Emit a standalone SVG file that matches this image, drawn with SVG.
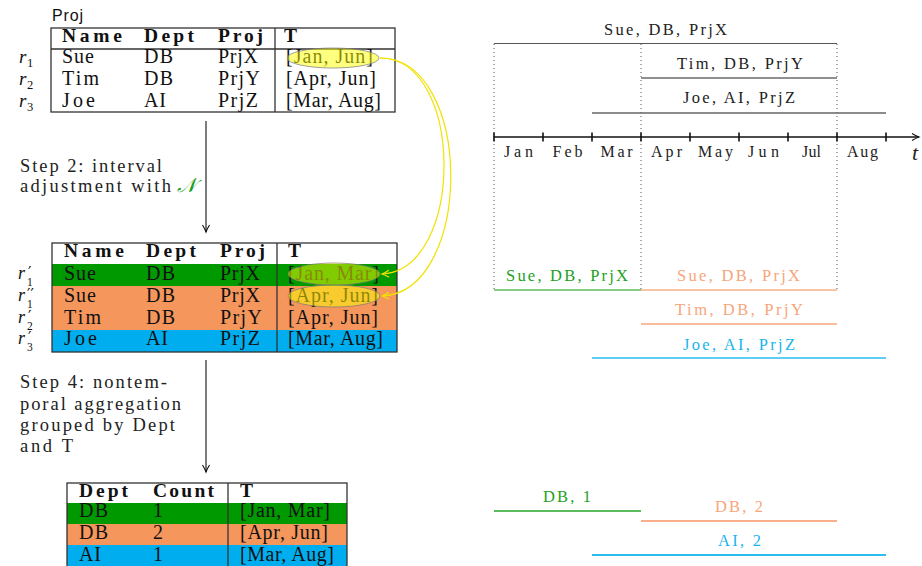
<svg xmlns="http://www.w3.org/2000/svg" width="922" height="566" viewBox="0 0 922 566">
<defs>
<style>
.t{font-family:"Liberation Serif","Times New Roman",serif;font-size:20px;fill:#111}
.b{font-family:"Liberation Serif","Times New Roman",serif;font-size:19.5px;font-weight:bold;fill:#111}
.st{font-family:"Liberation Serif","Times New Roman",serif;font-size:18.5px;fill:#222}
.tl{font-family:"Liberation Serif","Times New Roman",serif;font-size:16.5px;fill:#222}
.mo{font-family:"Liberation Serif","Times New Roman",serif;font-size:16px;fill:#222}
.rl{font-family:"Liberation Serif","Times New Roman",serif;font-size:19px;font-style:italic;fill:#111}
.rl2{font-family:"Liberation Serif","Times New Roman",serif;font-size:18px;font-style:italic;fill:#111}
.sub{font-style:normal;font-size:12.5px}
.sub2{font-style:normal;font-size:11.5px}
.pr{font-style:normal;font-size:15px;font-family:"DejaVu Sans",sans-serif}
.frame{fill:none;stroke:#333;stroke-width:1.3}
.ell{fill:#ffff00;fill-opacity:0.5;stroke:#777;stroke-opacity:0.7;stroke-width:1}
.green{fill:#009900}
.orange{fill:#F5965C}
.blue{fill:#00AEEF}
.dot{stroke:#555;stroke-width:1;stroke-dasharray:1 3}
.gtx{fill:#22a022}
.otx{fill:#F7A57A}
.btx{fill:#1AB4EC}
</style>
<marker id="ah" markerWidth="10" markerHeight="10" refX="8" refY="5" orient="auto" markerUnits="userSpaceOnUse">
<path d="M1,1.5 Q5,4 8,5 Q5,6 1,8.5" fill="none" stroke="#111" stroke-width="1.1"/>
</marker>
<marker id="ahy" markerWidth="10" markerHeight="10" refX="8" refY="5" orient="auto" markerUnits="userSpaceOnUse">
<path d="M1,1.5 Q5,4 8,5 Q5,6 1,8.5" fill="none" stroke="#F2E200" stroke-width="1.2"/>
</marker>
</defs>
<rect width="922" height="566" fill="#fff"/>

<!-- Table 1 -->
<g id="table-proj">
<text x="52" y="21" style="font-family:'Liberation Sans',Arial,sans-serif;font-size:16px;fill:#111" textLength="31">Proj</text>
<rect class="frame" x="51" y="28" width="344" height="84"/>
<line x1="51" y1="49" x2="395" y2="49" stroke="#333" stroke-width="1.3"/>
<line x1="275" y1="28" x2="275" y2="112" stroke="#333" stroke-width="1.3"/>
<text class="b" x="62" y="42" textLength="60">Name</text>
<text class="b" x="144" y="42" textLength="50">Dept</text>
<text class="b" x="218" y="42" textLength="45">Proj</text>
<text class="b" x="284" y="42">T</text>
<text class="t" x="62" y="63" textLength="32">Sue</text>
<text class="t" x="144" y="63" textLength="29">DB</text>
<text class="t" x="218" y="63" textLength="40">PrjX</text>
<text class="t" x="286" y="63" textLength="87">[Jan, Jun]</text>
<text class="t" x="62" y="85" textLength="37">Tim</text>
<text class="t" x="144" y="85" textLength="29">DB</text>
<text class="t" x="218" y="85" textLength="42">PrjY</text>
<text class="t" x="286" y="85" textLength="90">[Apr, Jun]</text>
<text class="t" x="62" y="107" textLength="33">Joe</text>
<text class="t" x="144" y="107" textLength="22">AI</text>
<text class="t" x="218" y="107" textLength="40">PrjZ</text>
<text class="t" x="286" y="107" textLength="95">[Mar, Aug]</text>
<ellipse class="ell" cx="333" cy="58" rx="46" ry="10"/>
<text class="rl" x="19" y="63">r<tspan class="sub" x="27" dy="4">1</tspan></text>
<text class="rl" x="19" y="85">r<tspan class="sub" x="27" dy="4">2</tspan></text>
<text class="rl" x="19" y="107">r<tspan class="sub" x="27" dy="4">3</tspan></text>
</g>

<!-- Step 2 label -->
<g id="step2">
<text class="st" x="20" y="172" textLength="142">Step 2: interval</text>
<text class="st" x="20" y="192" textLength="151">adjustment with</text>
<text x="177" y="192" style="font-family:'Liberation Serif',serif;font-size:20px;font-style:italic;fill:#1aa01a">𝒩</text>
</g>

<!-- Table 2 -->
<g id="table-adjusted">
<rect x="52" y="264" width="345" height="22" class="green"/>
<rect x="52" y="286" width="345" height="44" class="orange"/>
<rect x="52" y="330" width="345" height="22" class="blue"/>
<rect class="frame" x="52" y="243" width="345" height="109"/>
<line x1="277" y1="243" x2="277" y2="352" stroke="#333" stroke-width="1.3"/>
<text class="b" x="64" y="257" textLength="60">Name</text>
<text class="b" x="146" y="257" textLength="50">Dept</text>
<text class="b" x="220" y="257" textLength="45">Proj</text>
<text class="b" x="288" y="257">T</text>
<text class="t" x="64" y="280" textLength="32">Sue</text>
<text class="t" x="146" y="280" textLength="29">DB</text>
<text class="t" x="220" y="280" textLength="40">PrjX</text>
<text class="t" x="288" y="280" textLength="91">[Jan, Mar]</text>
<text class="t" x="64" y="302" textLength="32">Sue</text>
<text class="t" x="146" y="302" textLength="29">DB</text>
<text class="t" x="220" y="302" textLength="40">PrjX</text>
<text class="t" x="288" y="302" textLength="90">[Apr, Jun]</text>
<text class="t" x="64" y="324" textLength="37">Tim</text>
<text class="t" x="146" y="324" textLength="29">DB</text>
<text class="t" x="220" y="324" textLength="42">PrjY</text>
<text class="t" x="288" y="324" textLength="90">[Apr, Jun]</text>
<text class="t" x="64" y="345" textLength="33">Joe</text>
<text class="t" x="146" y="345" textLength="22">AI</text>
<text class="t" x="220" y="345" textLength="40">PrjZ</text>
<text class="t" x="288" y="345" textLength="95">[Mar, Aug]</text>
<ellipse class="ell" cx="334" cy="274" rx="46" ry="11"/>
<ellipse class="ell" cx="334" cy="296" rx="46" ry="11"/>
<text class="rl2" x="18" y="279">r<tspan class="pr" x="28" dy="-1">′</tspan><tspan class="sub2" x="27" dy="8">1</tspan></text>
<text class="rl2" x="18" y="301">r<tspan class="pr" x="27" dy="-1">′′</tspan><tspan class="sub2" x="27" dy="8">1</tspan></text>
<text class="rl2" x="18" y="323">r<tspan class="pr" x="28" dy="-1">′</tspan><tspan class="sub2" x="27" dy="8">2</tspan></text>
<text class="rl2" x="18" y="344">r<tspan class="pr" x="28" dy="-1">′</tspan><tspan class="sub2" x="27" dy="8">3</tspan></text>
</g>

<!-- Step 4 label -->
<g id="step4">
<text class="st" x="20" y="388" textLength="147">Step 4: nontem-</text>
<text class="st" x="20" y="410" textLength="161">poral aggregation</text>
<text class="st" x="20" y="431" textLength="155">grouped by Dept</text>
<text class="st" x="20" y="452" textLength="53">and T</text>
</g>

<!-- Table 3 -->
<g id="table-result">
<rect x="67" y="503" width="280" height="21" class="green"/>
<rect x="67" y="524" width="280" height="21" class="orange"/>
<rect x="67" y="545" width="280" height="23" class="blue"/>
<rect class="frame" x="67" y="483" width="280" height="90"/>
<line x1="228" y1="483" x2="228" y2="573" stroke="#333" stroke-width="1.3"/>
<text class="b" x="79" y="497" textLength="49">Dept</text>
<text class="b" x="153" y="497" textLength="61">Count</text>
<text class="b" x="240" y="497">T</text>
<text class="t" x="79" y="517" textLength="29">DB</text>
<text class="t" x="153" y="517">1</text>
<text class="t" x="240" y="517" textLength="90">[Jan, Mar]</text>
<text class="t" x="79" y="539" textLength="29">DB</text>
<text class="t" x="153" y="539">2</text>
<text class="t" x="240" y="539" textLength="88">[Apr, Jun]</text>
<text class="t" x="79" y="561" textLength="22">AI</text>
<text class="t" x="153" y="561">1</text>
<text class="t" x="240" y="561" textLength="94">[Mar, Aug]</text>
</g>

<!-- Connectors -->
<g id="connectors">
<line x1="206" y1="121" x2="206" y2="232" stroke="#111" stroke-width="1.1" marker-end="url(#ah)"/>
<line x1="206" y1="360" x2="206" y2="472" stroke="#111" stroke-width="1.1" marker-end="url(#ah)"/>
<path d="M380,58 C465,58 465,270 382,274" fill="none" stroke="#F2E200" stroke-width="1.2" marker-end="url(#ahy)"/>
<path d="M380,58 C474,58 474,292 382,296" fill="none" stroke="#F2E200" stroke-width="1.2" marker-end="url(#ahy)"/>
</g>

<!-- Timeline -->
<g id="timeline">
<line class="dot" x1="494" y1="44" x2="494" y2="290"/>
<line class="dot" x1="641" y1="44" x2="641" y2="290"/>
<line class="dot" x1="837" y1="44" x2="837" y2="290"/>
<line x1="494" y1="43.5" x2="837" y2="43.5" stroke="#555" stroke-width="1.2"/>
<line x1="641" y1="78" x2="837" y2="78" stroke="#222" stroke-width="1.2"/>
<line x1="592" y1="113" x2="886" y2="113" stroke="#666" stroke-width="1.4"/>
<text class="tl" x="665.5" y="35" text-anchor="middle" textLength="123">Sue, DB, PrjX</text>
<text class="tl" x="740" y="69" text-anchor="middle" textLength="126">Tim, DB, PrjY</text>
<text class="tl" x="739" y="103" text-anchor="middle" textLength="112">Joe, AI, PrjZ</text>
<line x1="494" y1="137" x2="919" y2="137" stroke="#111" stroke-width="1.6" marker-end="url(#ah)"/>
<path d="M494,132.5v9M543,132.5v9M592,132.5v9M641,132.5v9M690,132.5v9M739,132.5v9M788,132.5v9M837,132.5v9M886,132.5v9" stroke="#111" stroke-width="1.6"/>
<text class="mo" x="518.5" y="157" text-anchor="middle" textLength="29">Jan</text>
<text class="mo" x="567.5" y="157" text-anchor="middle" textLength="30">Feb</text>
<text class="mo" x="616.5" y="157" text-anchor="middle" textLength="32">Mar</text>
<text class="mo" x="666.5" y="157" text-anchor="middle" textLength="31">Apr</text>
<text class="mo" x="715.5" y="157" text-anchor="middle" textLength="35">May</text>
<text class="mo" x="763.5" y="157" text-anchor="middle" textLength="31">Jun</text>
<text class="mo" x="811.5" y="157" text-anchor="middle" textLength="19">Jul</text>
<text class="mo" x="862.5" y="157" text-anchor="middle" textLength="31">Aug</text>
<text x="912" y="160" style="font-family:'Liberation Serif',serif;font-size:22px;font-style:italic;fill:#222">t</text>
</g>

<!-- Adjusted timeline -->
<g id="timeline-adjusted">
<line x1="494" y1="290" x2="641" y2="290" stroke="#5DBB5D" stroke-width="1.5"/>
<line x1="641" y1="290" x2="837" y2="290" stroke="#F9B08A" stroke-width="1.5"/>
<line x1="641" y1="324" x2="837" y2="324" stroke="#F9A77A" stroke-width="1.5"/>
<line x1="592" y1="358" x2="886" y2="358" stroke="#2BBDF0" stroke-width="1.5"/>
<text class="tl gtx" x="567" y="281" text-anchor="middle" textLength="122">Sue, DB, PrjX</text>
<text class="tl otx" x="738.5" y="281" text-anchor="middle" textLength="123">Sue, DB, PrjX</text>
<text class="tl otx" x="739" y="315" text-anchor="middle" textLength="128">Tim, DB, PrjY</text>
<text class="tl btx" x="739" y="350" text-anchor="middle" textLength="112">Joe, AI, PrjZ</text>
</g>

<!-- Result timeline -->
<g id="timeline-result">
<line x1="494" y1="511" x2="641" y2="511" stroke="#5DBB5D" stroke-width="1.8"/>
<line x1="641" y1="521" x2="837" y2="521" stroke="#F9B08A" stroke-width="1.8"/>
<line x1="592" y1="555" x2="886" y2="555" stroke="#2BBDF0" stroke-width="1.8"/>
<text class="tl gtx" x="567" y="502" text-anchor="middle" textLength="48">DB, 1</text>
<text class="tl otx" x="739" y="512" text-anchor="middle" textLength="48">DB, 2</text>
<text class="tl btx" x="739.5" y="546" text-anchor="middle" textLength="43">AI, 2</text>
</g>
</svg>
